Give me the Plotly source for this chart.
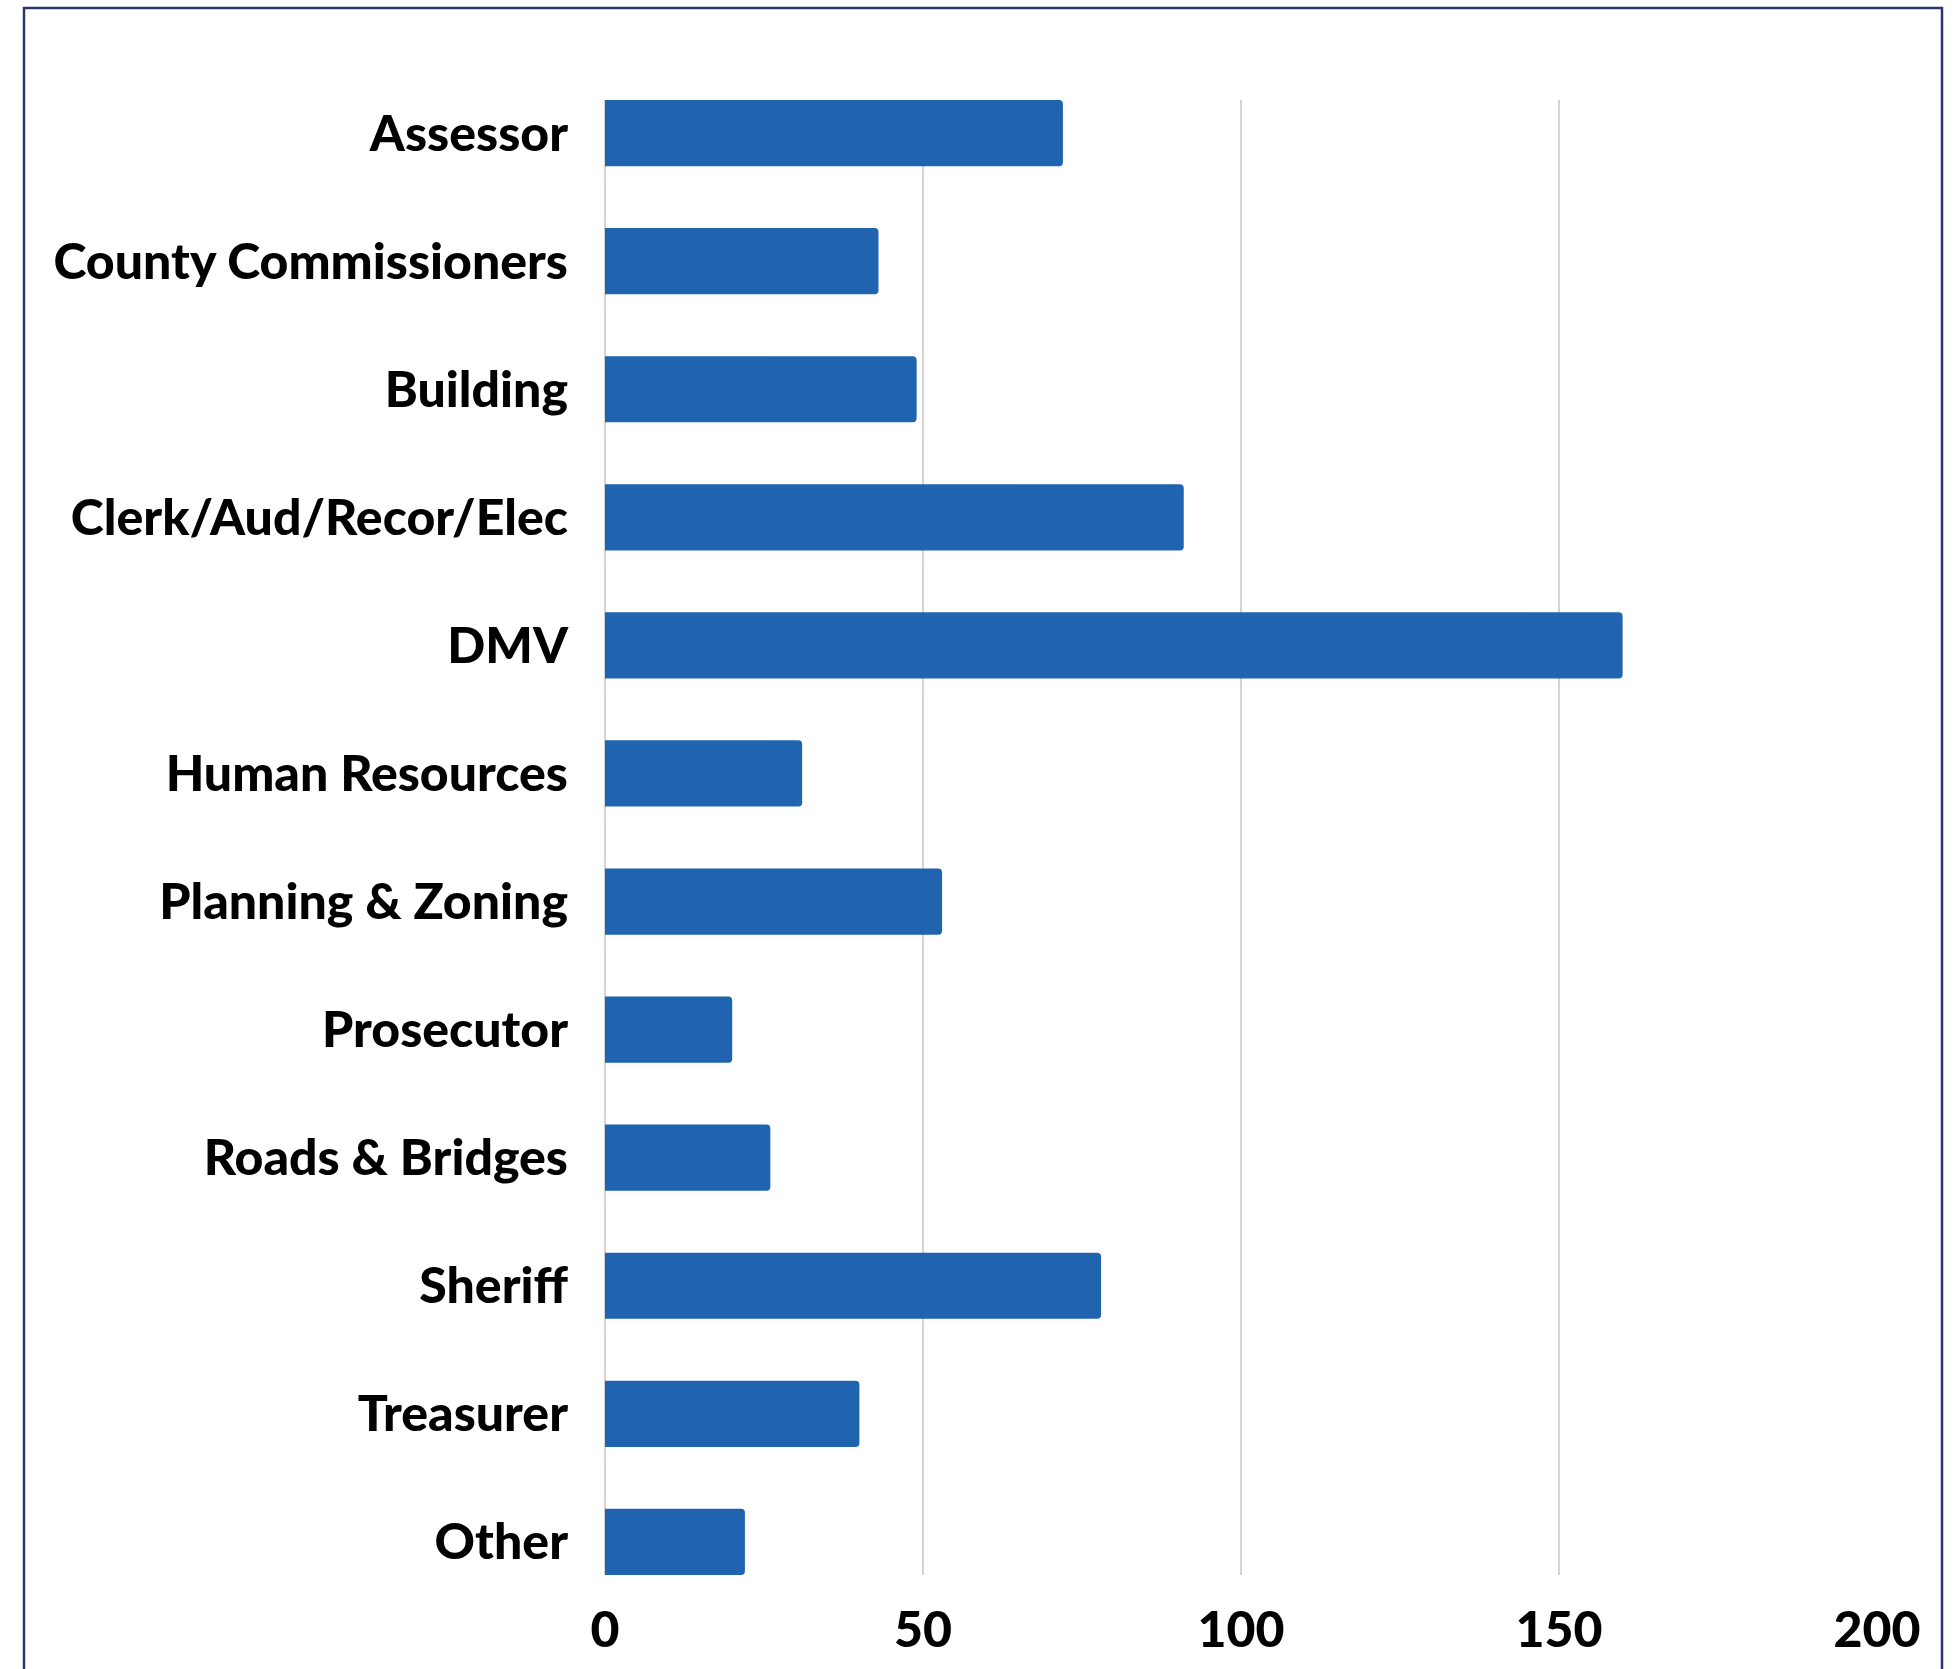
import plotly.graph_objects as go

categories = ["Assessor", "County Commissioners", "Building", "Clerk/Aud/Recor/Elec",
              "DMV", "Human Resources", "Planning & Zoning", "Prosecutor",
              "Roads & Bridges", "Sheriff", "Treasurer", "Other"]
values = [72, 43, 49, 91, 160, 31, 53, 20, 26, 78, 40, 22]
x_ticks = [0, 50, 100, 150, 200]

W, H = 1956, 1669
L, R, T, B = 605, 79, 100, 94
bar_w = 0.517
n = len(categories)

FONT = "Lato, 'Open Sans', sans-serif"
tick_font = dict(family=FONT, size=50, color="#000000", weight=900)

fig = go.Figure(go.Bar(
    y=categories, x=values, orientation="h",
    marker=dict(color="#2064AF", line=dict(width=0)),
    width=bar_w,
    hoverinfo="x+y",
))

fig.update_layout(
    width=W, height=H,
    margin=dict(l=L, r=R, t=T, b=B, autoexpand=False),
    paper_bgcolor="white", plot_bgcolor="white",
    barcornerradius=4,
    showlegend=False,
    font=tick_font,
)

fig.update_xaxes(
    range=[0, 200], tickvals=x_ticks, ticktext=[str(v) for v in x_ticks],
    showgrid=True, gridcolor="#d4d4d4", gridwidth=1.5,
    zeroline=True, zerolinecolor="#d4d4d4", zerolinewidth=1.5,
    showline=False,
    ticks="outside", ticklen=11, tickcolor="rgba(0,0,0,0)",
    tickfont=tick_font,
)

fig.update_yaxes(
    type="category", categoryorder="array", categoryarray=categories,
    range=[n - 1 + bar_w / 2, -bar_w / 2],
    showgrid=False, zeroline=False, showline=False,
    ticks="outside", ticklen=26, tickcolor="rgba(0,0,0,0)",
    tickfont=tick_font,
)

pw = W - L - R
ph = H - T - B
fig.add_shape(
    type="rect", xref="paper", yref="paper",
    x0=(24 - L) / pw, x1=(1942 - L) / pw,
    y0=-0.2, y1=(H - B - 8) / ph,
    line=dict(color="#2e3470", width=2.5), fillcolor="rgba(0,0,0,0)",
    layer="above",
)

fig.write_html(
    "out.html",
    config={"displayModeBar": False},
    post_script="document.body.style.margin='0';document.body.style.overflow='hidden';",
)
